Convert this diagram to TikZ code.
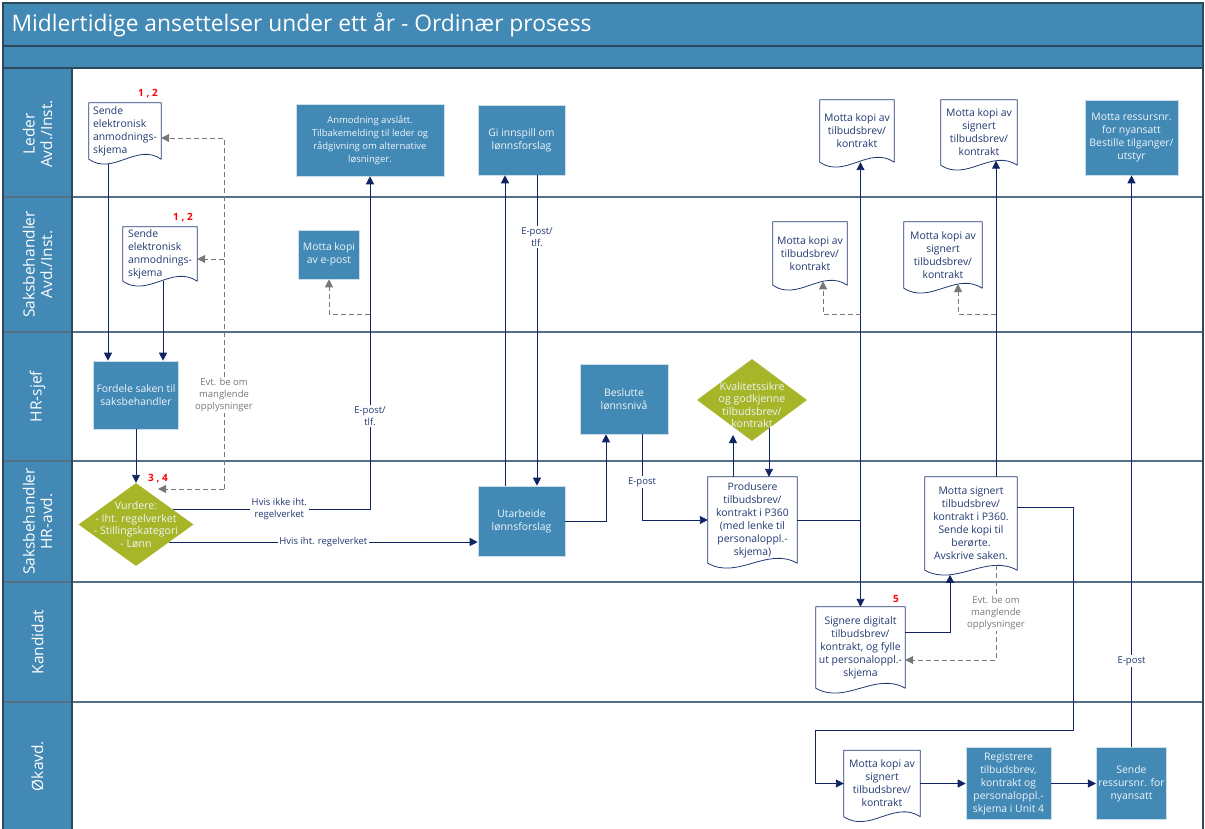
\documentclass[tikz,border=0pt]{standalone}
\usepackage{fontspec}
\setmainfont{Open Sans}
\usetikzlibrary{arrows.meta,shapes.geometric,calc}
\definecolor{hdrblue}{RGB}{66,137,181}
\definecolor{frameline}{RGB}{44,72,92}
\definecolor{lanegray}{RGB}{84,112,132}
\definecolor{navy}{RGB}{16,36,100}
\definecolor{doctext}{RGB}{32,56,112}
\definecolor{olive}{RGB}{166,182,40}
\definecolor{dashgray}{RGB}{120,120,120}
\definecolor{boxedge}{RGB}{205,222,235}
\definecolor{boxtext}{RGB}{240,245,250}
\newcommand\docframe[1]{\draw[docline] (#1.south west) -- (#1.north west) -- (#1.north east) -- (#1.south east) .. controls ($(#1.south west)!0.667!(#1.south east)+(0pt,17pt)$) and ($(#1.south west)!0.333!(#1.south east)+(0pt,-17pt)$) .. (#1.south west) -- cycle;}

\begin{document}
\begin{tikzpicture}[x=1pt,y=-1pt,>={Triangle[length=8pt,width=8pt]},flow/.style={->,draw=navy,line width=0.9pt},back/.style={->,draw=dashgray,line width=0.9pt,dash pattern=on 5pt off 3pt},wh/.style 2 args={minimum width=#1pt,minimum height=#2pt},proc/.style={rectangle,fill=hdrblue,draw=boxedge,line width=0.6pt,text=boxtext,align=center,inner sep=2pt,font=\fontsize{10.4}{13}\selectfont},doc/.style={rectangle,text=doctext,align=center,inner sep=2pt,font=\fontsize{10.4}{13}\selectfont},docline/.style={draw=doctext,line width=0.8pt,line join=round},decision/.style={diamond,fill=olive,inner sep=0pt},dlabel/.style={text=boxtext,align=center,font=\fontsize{10.6}{12.6}\selectfont},lbl/.style={fill=white,text=doctext,align=center,inner sep=1.5pt,font=\fontsize{9.5}{12}\selectfont},note/.style={lbl,text=dashgray},num/.style={text=red,font=\bfseries\fontsize{10}{12}\selectfont},lanelbl/.style={rotate=90,text=white,align=center,font=\fontsize{15.5}{17.5}\selectfont},laneline/.style={draw=lanegray,line width=1.6pt}]
\useasboundingbox (0,0) rectangle (1205,829);
\fill[hdrblue] (3,3) rectangle (1203,68); \fill[hdrblue] (3,68) rectangle (72,832);
\foreach \y in {197,332,461,582,702} \draw[laneline] (3,\y) -- (1203,\y);
\draw[frameline,line width=1.2pt] (3,3) rectangle (1203,832) (3,46) -- (1203,46) (3,68) -- (1203,68) (72,68) -- (72,832);
\node[anchor=west,text=white,font=\fontsize{22.8}{26}\selectfont] (tittel) at (8,24.5) {Midlertidige ansettelser under ett år - Ordinær prosess};
\node[lanelbl] (lleder) at (37.5,134) {Leder\\Avd./Inst.};
\node[lanelbl] (lsaks) at (37.5,264.5) {Saksbehandler\\Avd./Inst.};
\node[lanelbl] (lhr) at (37.5,396.5) {HR-sjef};
\node[lanelbl] (lsakshr) at (37.5,521.5) {Saksbehandler\\HR-avd.};
\node[lanelbl] (lkand) at (37.5,642) {Kandidat};
\node[lanelbl] (lok) at (37.5,766) {Økavd.};

\node[doc,align=left,wh={72}{56}] (sende1) at (125,131) {Sende\\elektronisk\\anmodnings-\\skjema}; \docframe{sende1}
\node[doc,align=left,wh={74}{54}] (sende2) at (160,254) {Sende\\elektronisk\\anmodnings-\\skjema}; \docframe{sende2}
\node[proc,wh={148}{72},font=\fontsize{9.5}{13}\selectfont] (avslag) at (370,140) {Anmodning avslått.\\Tilbakemelding til leder og\\rådgivning om alternative\\løsninger.};
\node[proc,wh={87}{70}] (innspill) at (521.5,140) {Gi innspill om\\lønnsforslag};
\node[doc,wh={74}{62}] (kopiL) at (857,131) {Motta kopi av\\tilbudsbrev/\\kontrakt}; \docframe{kopiL}
\node[doc,wh={76}{65}] (signL) at (979,132.5) {Motta kopi av\\signert\\tilbudsbrev/\\kontrakt}; \docframe{signL}
\node[proc,wh={93}{75}] (ressurs) at (1131.5,137.5) {Motta ressursnr.\\for nyansatt\\Bestille tilganger/\\utstyr};
\node[proc,wh={61}{49}] (kopiepost) at (329,254.5) {Motta kopi\\av e-post};
\node[doc,wh={74}{63}] (kopiS) at (810,253.5) {Motta kopi av\\tilbudsbrev/\\kontrakt}; \docframe{kopiS}
\node[doc,wh={78}{66}] (signS) at (943,255) {Motta kopi av\\signert\\tilbudsbrev/\\kontrakt}; \docframe{signS}
\node[proc,wh={85}{68}] (fordele) at (136,395) {Fordele saken til\\saksbehandler};
\node[proc,wh={88}{70}] (beslutte) at (624,399) {Beslutte\\lønnsnivå};
\node[decision,wh={110}{82},label={[dlabel,yshift=-5pt]center:Kvalitetssikre\\og godkjenne\\tilbudsbrev/\\kontrakt}] (kvalitet) at (752,400) {};
\node[decision,wh={115}{83},label={[dlabel]center:Vurdere:\\- Iht. regelverket\\- Stillingskategori\\- Lønn}] (vurdere) at (136,524.5) {};
\node[proc,wh={87}{70}] (utarbeide) at (521.5,521) {Utarbeide\\lønnsforslag};
\node[doc,wh={89}{86}] (produsere) at (752.5,520) {Produsere\\tilbudsbrev/\\kontrakt i P360\\(med lenke til\\personaloppl.-\\skjema)}; \docframe{produsere}
\node[doc,wh={92}{93}] (signert) at (971,523.5) {Motta signert\\tilbudsbrev/\\kontrakt i P360.\\Sende kopi til\\berørte.\\Avskrive saken.}; \docframe{signert}
\node[doc,wh={89}{81}] (signere) at (860.5,647.5) {Signere digitalt\\tilbudsbrev/\\kontrakt, og fylle\\ut personaloppl.-\\skjema}; \docframe{signere}
\node[doc,wh={76}{66}] (kopiO) at (882,783.5) {Motta kopi av\\signert\\tilbudsbrev/\\kontrakt}; \docframe{kopiO}
\node[proc,wh={85}{72}] (registrere) at (1008.5,783.5) {Registrere\\tilbudsbrev,\\kontrakt og\\personaloppl.-\\skjema i Unit 4};
\node[proc,wh={70}{72}] (sende) at (1131.5,783.5) {Sende\\ressursnr. for\\nyansatt};
\node[num] (nr1) at (148,94) {1 , 2}; \node[num] (nr2) at (183,218) {1 , 2};
\node[num] (nr3) at (158,479) {3 , 4}; \node[num] (nr5) at (896,599) {5};

\coordinate (kopirow) at (0,314); \coordinate (q1) at (224,489);
\coordinate (ok1) at (1073,730); \coordinate (ok2) at (815,730);
\coordinate (s1b) at ([xshift=-17pt,yshift=-4.7pt]sende1.south); \coordinate (s2b) at ([xshift=3pt]sende2.south);
\coordinate (s1e) at ([yshift=-7pt]sende1.east); \coordinate (s2e) at ([yshift=-5pt]sende2.east);
\coordinate (v1) at ([xshift=22pt,yshift=35.5pt]vurdere.center); \coordinate (v2) at ([xshift=37pt,yshift=15.5pt]vurdere.center); \coordinate (v3) at ([xshift=33pt,yshift=-17.5pt]vurdere.center);
\coordinate (u1) at ([xshift=-16.5pt]utarbeide.north); \coordinate (g1) at ([xshift=15.5pt]innspill.south);
\coordinate (b1) at ([xshift=-18pt]beslutte.south); \coordinate (b2) at ([xshift=18pt]beslutte.south);
\coordinate (k1) at ([xshift=-19.5pt]produsere.north); \coordinate (k2) at ([xshift=-19pt,yshift=-35pt]kvalitet.center); \coordinate (k3) at ([xshift=17pt,yshift=-28pt]kvalitet.center);
\coordinate (p1) at (produsere.east -| signere.north); \coordinate (kc) at ([xshift=13pt,yshift=3.9pt]kopiS.south);
\coordinate (n1) at ([yshift=15.5pt]signere.east); \coordinate (n2) at ([xshift=-21pt,yshift=-4.6pt]signert.south); \coordinate (n3) at ([yshift=-12.5pt]signere.east);
\coordinate (m1) at ([xshift=25pt]signert.north); \coordinate (m2) at ([xshift=17pt,yshift=4.5pt]signL.south); \coordinate (m3) at ([xshift=25pt,yshift=4.9pt]signert.south);
\coordinate (sc) at ([xshift=15pt,yshift=4.2pt]signS.south); \coordinate (r1) at ([yshift=16.5pt]signert.east);

\draw[flow] (s1b) -- (s1b |- fordele.north); \draw[flow] (s2b) -- (s2b |- fordele.north);
\draw[flow] (fordele.south) -- (vurdere.north);
\draw[back] (q1) -- (v1); \draw[back] (q1) |- (s1e); \draw[back] (q1 |- s2e) -- (s2e);
\node[note] (evt1) at (q1 |- fordele) {Evt. be om\\manglende\\opplysninger};
\draw[flow] (v2) -- (v2 -| avslag.south) node[lbl,pos=0.54] {Hvis ikke iht.\\regelverket} -- (avslag.south) node[lbl,pos=0.28] {E-post/\\tlf.};
\draw[back] (avslag.south |- kopirow) -| (kopiepost.south);
\draw[flow] (v3) -- (v3 -| utarbeide.west) node[lbl,pos=0.5] {Hvis iht. regelverket};
\draw[flow] (u1) -- (u1 |- innspill.south);
\draw[flow] (g1) -- (g1 |- utarbeide.north) node[lbl,pos=0.2] {E-post/\\tlf.};
\draw[flow] (utarbeide.east) -| (b1);
\draw[flow] (b2) |- (produsere.west) node[lbl,pos=0.28] {E-post};
\draw[flow] (k1) -- (k2); \draw[flow] (k3) -- (k3 |- produsere.north);
\draw[flow] (produsere.east) -- (p1) -- (p1 |- kopiL.south); \draw[flow] (p1) -- (signere.north);
\draw[back] (p1 |- kopirow) -| (kc);
\draw[flow] (n1) -| (n2);
\draw[flow] (m1) -- (m2); \draw[back] (m1 |- kopirow) -| (sc);
\draw[back] (m3) |- (n3) node[note,pos=0.25] {Evt. be om\\manglende\\opplysninger};
\draw[flow] (r1) -| (ok1) -- (ok2) |- (kopiO.west);
\draw[flow] (kopiO.east) -- (kopiO.east -| registrere.west); \draw[flow] (registrere.east) -- (registrere.east -| sende.west);
\draw[flow] (sende.north) -- (sende.north |- ressurs.south) node[lbl,pos=0.15] {E-post};
\end{tikzpicture}
\end{document}
